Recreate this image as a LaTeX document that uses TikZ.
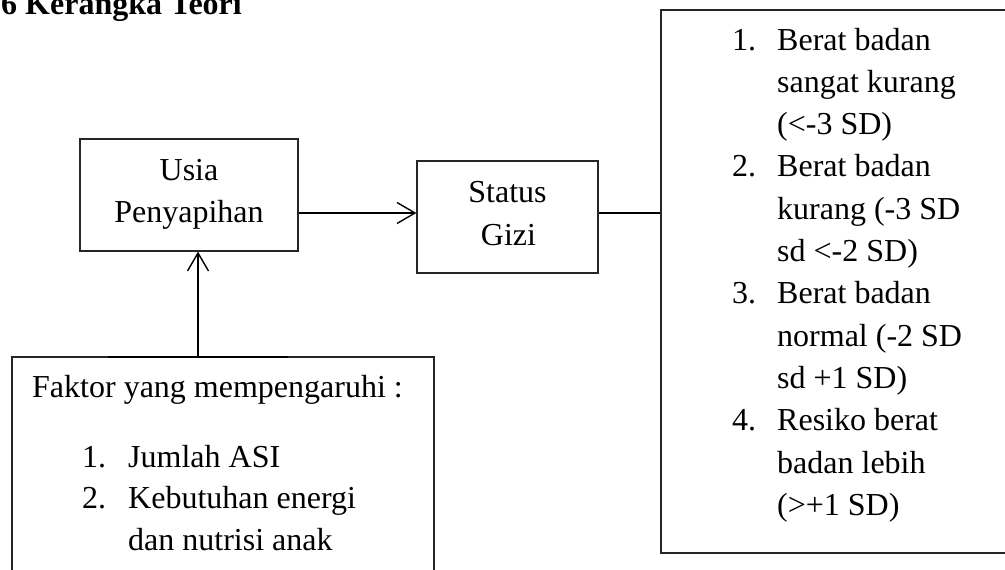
\documentclass[tikz,border=0pt]{standalone}
\usepackage{fontspec}
\setmainfont{Liberation Serif}
\usetikzlibrary{arrows.meta}
\begin{document}
\begin{tikzpicture}[x=1pt,y=-1pt,
  box/.style={draw=black!85, line width=1.2pt, inner sep=0pt},
  txt/.style={anchor=base, inner sep=0pt, font=\fontsize{32}{42}\selectfont},
  txtl/.style={anchor=base west, inner sep=0pt, font=\fontsize{32}{42}\selectfont},
  conn/.style={draw=black, line width=1.4pt},
  arr/.style={conn, -{Straight Barb[length=18pt,width=21pt,line width=1.4pt]}}
]
\clip (0,0) rectangle (1005,570);
% title
\node[anchor=base west, inner sep=0pt, font=\bfseries\fontsize{32}{38}\selectfont] (title) at (1,15) {6 Kerangka Teori};
% boxes
\node[box, minimum width=218pt, minimum height=112pt] (usia) at (189,195) {};
\node[box, minimum width=181pt, minimum height=112pt] (status) at (507.5,217) {};
\node[box, minimum width=420pt, minimum height=543pt] (right) at (871,281.5) {};
\node[box, minimum width=422pt, minimum height=223pt] (fac) at (223,468.5) {};
% box texts
\node[txt] (t1) at (189,180) {Usia};
\node[txt] (t2) at (189,222) {Penyapihan};
\node[txt] (t3) at (507.5,202) {Status};
\node[txt] (t4) at (508.5,245) {Gizi};
% right list
\foreach \t [count=\i from 0] in {{Berat badan},{sangat kurang},{(<-3 SD)},{Berat badan},{kurang (-3 SD},{sd <-2 SD)},{Berat badan},{normal (-2 SD},{sd +1 SD)},{Resiko berat},{badan lebih},{(>+1 SD)}}
  \node[txtl] (r\i) at (777,50+42.3*\i) {\t};
\foreach \n/\k in {1/0,2/3,3/6,4/9}
  \node[txtl] (n\n) at (732,50+42.3*\k) {\n.};
% factor list
\node[txtl] (fk) at (32,397) {Faktor yang mempengaruhi :};
\node[txtl] (f1n) at (82,467) {1.};
\node[txtl] (f1) at (128,467) {Jumlah ASI};
\node[txtl] (f2n) at (82,508) {2.};
\node[txtl] (f2) at (128,508) {Kebutuhan energi};
\node[txtl] (f3) at (128,550) {dan nutrisi anak};
% connectors
\coordinate (ly) at (0,213);
\coordinate (lx) at (198,0);
\coordinate (s1) at (108,357);
\coordinate (s2) at (288,357);
\draw[arr] (usia.east |- ly) -- (status.west |- ly);
\draw[conn] (status.east |- ly) -- (right.west |- ly);
\draw[arr] (fac.north -| lx) -- (usia.south -| lx);
\draw[conn] (s1) -- (s2);
\end{tikzpicture}
\end{document}
